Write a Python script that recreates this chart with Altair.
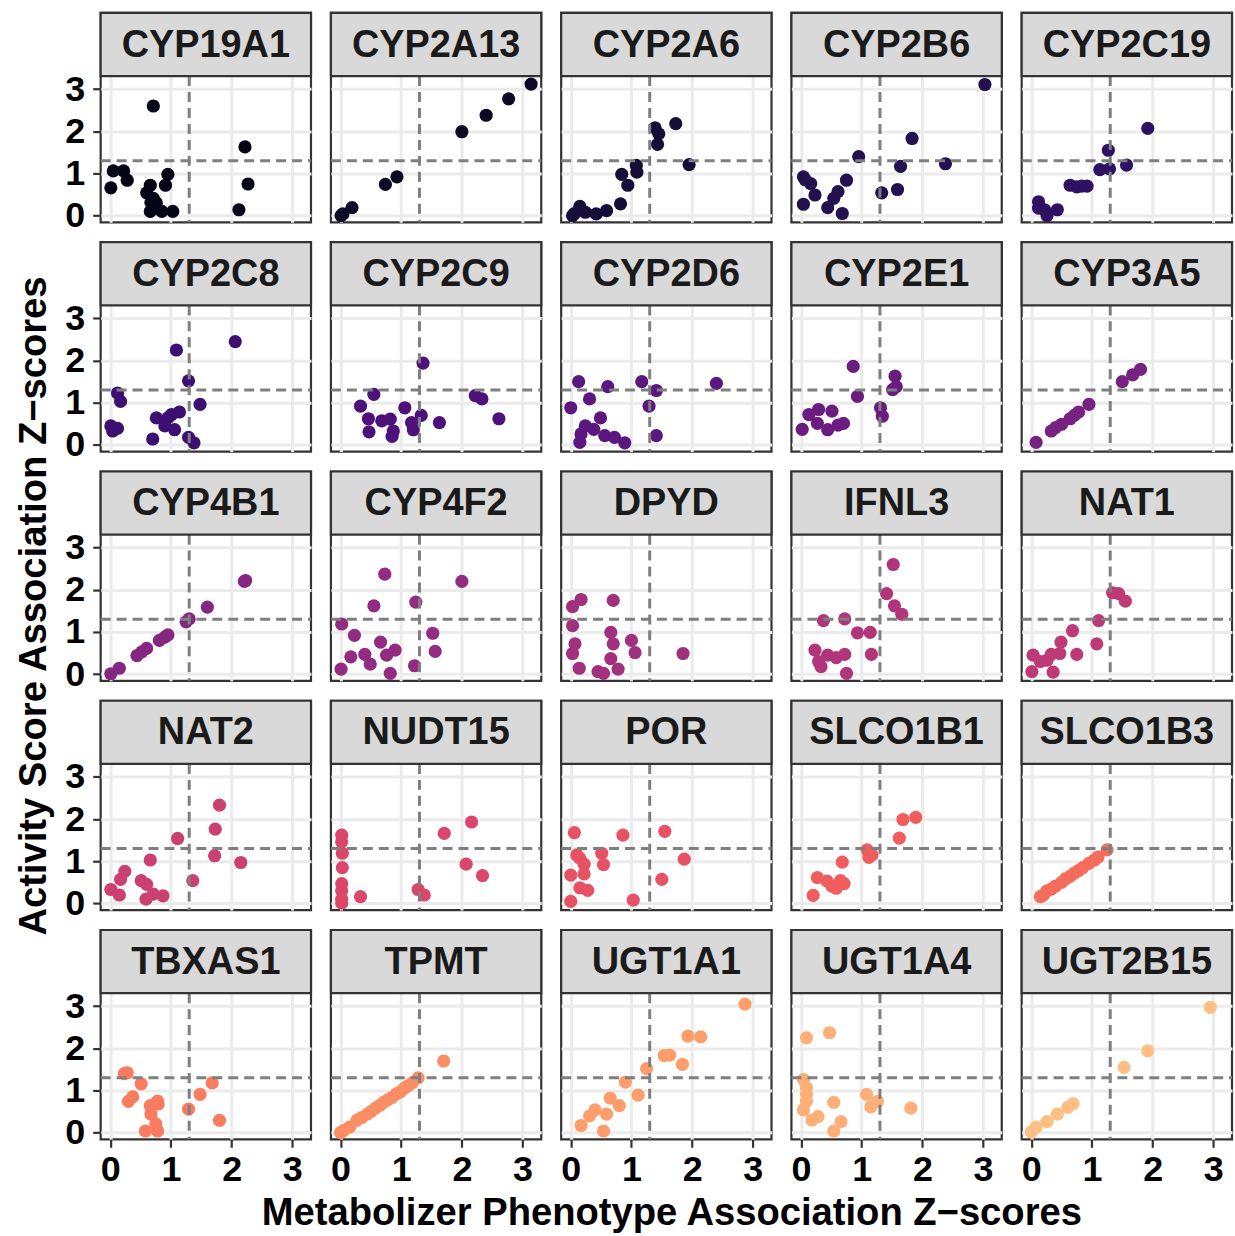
import altair as alt
import pandas as pd

# Gene panels, in display order
GENES = [
    "CYP19A1", "CYP2A13", "CYP2A6", "CYP2B6", "CYP2C19",
    "CYP2C8", "CYP2C9", "CYP2D6", "CYP2E1", "CYP3A5",
    "CYP4B1", "CYP4F2", "DPYD", "IFNL3", "NAT1",
    "NAT2", "NUDT15", "POR", "SLCO1B1", "SLCO1B3",
    "TBXAS1", "TPMT", "UGT1A1", "UGT1A4", "UGT2B15",
]

# Metabolizer phenotype (mp) and activity score (as) association z-scores per gene
cyp19a1_mp = [0.71, 2.22, 2.27, 2.12, 0.01, 0.05, 0.22, 0.28, 0.66, 0.60, 0.95, 0.91, 0.67, 0.76, 0.66, 0.85, 1.03, 0.71]
cyp19a1_as = [2.60, 1.63, 0.75, 0.14, 0.66, 1.06, 1.06, 0.84, 0.72, 0.54, 0.98, 0.72, 0.31, 0.30, 0.10, 0.10, 0.10, 0.41]

cyp2a13_mp = [0.01, 0.04, 0.19, 0.74, 0.93, 2.00, 2.40, 2.77, 3.14]
cyp2a13_as = [0.00, 0.04, 0.19, 0.74, 0.92, 1.99, 2.38, 2.77, 3.12]

cyp2a6_mp = [0.03, 0.06, 0.15, 0.24, 0.42, 0.59, 0.82, 0.84, 0.94, 1.08, 1.09, 1.39, 1.45, 1.43, 1.73, 1.95]
cyp2a6_as = [0.00, 0.05, 0.22, 0.08, 0.04, 0.12, 0.28, 0.98, 0.72, 1.19, 1.03, 2.08, 1.94, 1.69, 2.18, 1.21]

cyp2b6_mp = [3.03, 0.04, 0.16, 0.23, 0.04, 0.44, 0.68, 0.54, 0.61, 0.75, 0.95, 1.33, 1.64, 1.59, 1.83, 2.38, 0.07]
cyp2b6_as = [3.11, 0.92, 0.76, 0.49, 0.27, 0.19, 0.05, 0.41, 0.57, 0.84, 1.40, 0.54, 1.17, 0.62, 1.83, 1.23, 0.85]

cyp2c19_mp = [0.12, 0.12, 0.26, 0.43, 0.64, 0.75, 0.83, 0.92, 1.13, 1.27, 1.29, 1.57, 1.92, 0.22]
cyp2c19_as = [0.33, 0.18, 0.00, 0.14, 0.72, 0.68, 0.70, 0.70, 1.09, 1.55, 1.11, 1.20, 2.07, 0.14]

cyp2c8_mp = [0.01, 0.04, 0.12, 0.12, 0.17, 0.70, 0.76, 0.95, 0.90, 1.06, 1.14, 1.01, 1.09, 1.29, 1.29, 1.38, 1.48, 2.06]
cyp2c8_as = [0.45, 0.33, 0.39, 1.23, 1.03, 0.14, 0.64, 0.64, 0.45, 0.36, 0.78, 0.72, 2.25, 1.52, 0.18, 0.05, 0.96, 2.45]

cyp2c9_mp = [0.33, 0.46, 0.47, 0.55, 0.68, 0.82, 0.87, 0.85, 1.06, 1.17, 1.20, 1.33, 1.36, 1.63, 2.22, 2.33, 2.61]
cyp2c9_as = [0.92, 0.62, 0.31, 1.20, 0.57, 0.61, 0.33, 0.20, 0.88, 0.53, 0.36, 0.70, 1.94, 0.53, 1.17, 1.09, 0.62]

cyp2d6_mp = [0.13, 0.00, 0.31, 0.61, 1.17, 1.41, 1.29, 1.41, 2.40, 0.49, 0.24, 0.15, 0.17, 0.38, 0.56, 0.72, 0.89]
cyp2d6_as = [1.50, 0.88, 1.09, 1.38, 1.50, 1.29, 0.92, 0.22, 1.46, 0.64, 0.45, 0.06, 0.26, 0.37, 0.22, 0.18, 0.05]

cyp2e1_mp = [0.02, 0.13, 0.29, 0.27, 0.44, 0.51, 0.61, 0.70, 0.86, 0.93, 1.31, 1.34, 1.51, 1.55, 1.57]
cyp2e1_as = [0.37, 0.72, 0.84, 0.51, 0.36, 0.80, 0.47, 0.51, 1.86, 1.15, 0.88, 0.68, 1.31, 1.63, 1.38]

cyp3a5_mp = [0.08, 0.33, 0.40, 0.50, 0.64, 0.71, 0.78, 0.95, 1.50, 1.67, 1.80]
cyp3a5_as = [0.06, 0.33, 0.41, 0.49, 0.62, 0.70, 0.78, 0.96, 1.50, 1.66, 1.79]

cyp4b1_mp = [0.01, 0.15, 0.44, 0.52, 0.60, 0.81, 0.90, 0.95, 1.25, 1.30, 1.60, 2.21, 2.23]
cyp4b1_as = [0.01, 0.14, 0.44, 0.53, 0.61, 0.80, 0.88, 0.93, 1.24, 1.31, 1.59, 2.20, 2.22]

cyp4f2_mp = [0.02, 0.01, 0.17, 0.23, 0.40, 0.49, 0.55, 0.66, 0.73, 0.76, 0.90, 0.82, 1.22, 1.24, 1.52, 1.56, 2.00]
cyp4f2_as = [1.19, 0.12, 0.41, 0.92, 0.47, 0.24, 1.62, 0.76, 2.37, 0.45, 0.57, 0.02, 0.20, 1.71, 0.97, 0.54, 2.20]

dpyd_mp = [0.17, 0.03, 0.03, 0.70, 0.07, 0.03, 0.14, 0.45, 0.54, 0.66, 0.70, 0.66, 0.78, 1.00, 1.06, 1.85]
dpyd_as = [1.77, 1.60, 1.15, 1.75, 0.72, 0.49, 0.14, 0.06, 0.02, 0.99, 0.72, 0.37, 0.12, 0.80, 0.51, 0.49]

ifnl3_mp = [1.52, 1.41, 1.54, 1.66, 0.37, 0.72, 0.93, 1.14, 1.16, 0.23, 0.29, 0.33, 0.44, 0.58, 0.72, 0.75]
ifnl3_as = [2.60, 1.91, 1.62, 1.42, 1.27, 1.31, 0.98, 0.99, 0.47, 0.57, 0.30, 0.18, 0.45, 0.39, 0.47, 0.02]

nat1_mp = [1.34, 1.44, 1.55, 1.11, 1.08, 0.68, 0.75, 0.49, 0.47, 0.33, 0.03, 0.01, 0.15, 0.36, 0.26]
nat1_as = [1.93, 1.91, 1.73, 1.27, 0.72, 1.03, 0.47, 0.76, 0.49, 0.47, 0.45, 0.06, 0.30, 0.05, 0.33]

nat2_mp = [0.01, 0.15, 0.17, 0.24, 0.51, 0.60, 0.66, 0.59, 0.71, 0.87, 1.11, 1.36, 1.72, 1.73, 1.80, 2.15]
nat2_as = [0.33, 0.20, 0.57, 0.76, 0.54, 0.45, 1.03, 0.10, 0.22, 0.18, 1.54, 0.54, 1.13, 1.76, 2.33, 0.97]

nudt15_mp = [0.02, 0.02, 0.03, 0.03, 0.02, 0.02, 0.02, 0.02, 0.33, 1.28, 1.38, 1.71, 2.07, 2.16, 2.34]
nudt15_as = [1.62, 1.46, 1.19, 0.85, 0.47, 0.30, 0.10, 0.01, 0.16, 0.33, 0.20, 1.66, 0.93, 1.93, 0.66]

por_mp = [0.06, 0.00, 0.00, 0.10, 0.15, 0.22, 0.22, 0.15, 0.28, 0.51, 0.54, 0.86, 1.03, 1.55, 1.50, 1.87]
por_as = [1.68, 0.05, 0.67, 1.15, 1.07, 0.93, 0.70, 0.37, 0.31, 1.19, 0.92, 1.62, 0.08, 1.71, 0.57, 1.05]

slco1b1_mp = [0.20, 0.27, 0.43, 0.51, 0.58, 0.65, 0.68, 0.71, 1.09, 1.12, 1.17, 1.62, 1.68, 1.89]
slco1b1_as = [0.19, 0.61, 0.53, 0.41, 0.36, 0.54, 0.98, 0.47, 1.27, 1.09, 1.15, 1.55, 1.99, 2.04]

slco1b3_mp = [0.15, 0.20, 0.26, 0.33, 0.40, 0.50, 0.57, 0.64, 0.71, 0.78, 0.85, 0.95, 1.04, 1.10, 1.25]
slco1b3_as = [0.16, 0.20, 0.30, 0.34, 0.41, 0.50, 0.59, 0.64, 0.72, 0.78, 0.85, 0.95, 1.03, 1.10, 1.27]

tbxas1_mp = [0.23, 0.28, 0.30, 0.37, 0.51, 0.66, 0.67, 0.78, 0.79, 0.75, 0.58, 0.78, 1.29, 1.48, 1.68, 1.80]
tbxas1_as = [1.40, 1.42, 0.74, 0.85, 1.16, 0.64, 0.44, 0.75, 0.68, 0.21, 0.04, 0.04, 0.56, 0.91, 1.18, 0.29]

tpmt_mp = [0.00, 0.05, 0.15, 0.27, 0.35, 0.44, 0.50, 0.58, 0.65, 0.71, 0.78, 0.85, 0.92, 0.98, 1.05, 1.11, 1.18, 1.28, 1.70]
tpmt_as = [0.00, 0.05, 0.13, 0.29, 0.36, 0.44, 0.50, 0.58, 0.65, 0.72, 0.78, 0.84, 0.92, 0.96, 1.05, 1.11, 1.18, 1.30, 1.70]

ugt1a1_mp = [0.17, 0.31, 0.40, 0.54, 0.59, 0.65, 0.80, 0.90, 1.11, 1.25, 1.54, 1.63, 1.84, 1.93, 2.14, 2.87]
ugt1a1_as = [0.17, 0.40, 0.54, 0.04, 0.44, 0.82, 0.64, 1.20, 0.89, 1.52, 1.83, 1.84, 1.62, 2.29, 2.27, 3.05]

ugt1a4_mp = [0.09, 0.47, 0.04, 0.09, 0.09, 0.09, 0.04, 0.18, 0.28, 0.54, 0.54, 0.66, 1.08, 1.15, 1.26, 1.81]
ugt1a4_as = [2.25, 2.37, 1.26, 1.07, 0.92, 0.75, 0.54, 0.30, 0.38, 0.72, 0.04, 0.26, 0.91, 0.61, 0.74, 0.58]

ugt2b15_mp = [0.00, 0.08, 0.26, 0.43, 0.60, 0.69, 1.53, 1.92, 2.95]
ugt2b15_as = [0.02, 0.13, 0.26, 0.44, 0.60, 0.69, 1.55, 1.94, 2.97]

MP_SERIES = [
    cyp19a1_mp, cyp2a13_mp, cyp2a6_mp, cyp2b6_mp, cyp2c19_mp,
    cyp2c8_mp, cyp2c9_mp, cyp2d6_mp, cyp2e1_mp, cyp3a5_mp,
    cyp4b1_mp, cyp4f2_mp, dpyd_mp, ifnl3_mp, nat1_mp,
    nat2_mp, nudt15_mp, por_mp, slco1b1_mp, slco1b3_mp,
    tbxas1_mp, tpmt_mp, ugt1a1_mp, ugt1a4_mp, ugt2b15_mp,
]
AS_SERIES = [
    cyp19a1_as, cyp2a13_as, cyp2a6_as, cyp2b6_as, cyp2c19_as,
    cyp2c8_as, cyp2c9_as, cyp2d6_as, cyp2e1_as, cyp3a5_as,
    cyp4b1_as, cyp4f2_as, dpyd_as, ifnl3_as, nat1_as,
    nat2_as, nudt15_as, por_as, slco1b1_as, slco1b3_as,
    tbxas1_as, tpmt_as, ugt1a1_as, ugt1a4_as, ugt2b15_as,
]

THRESHOLD = 1.301  # -log10(0.05)
TICKS = [0, 0.5, 1, 1.5, 2, 2.5, 3]
X_TITLE = "Metabolizer Phenotype Association Z\u2212scores"
Y_TITLE = "Activity Score Association Z\u2212scores"

FONT = "Liberation Sans"
N_COLS = 5
N_ROWS = 5
PANEL_W = 211
PANEL_H = 210          # strip + plotting region
STRIP_H = 63.4
GAP = 20
LO, HI = -0.1575, 3.3075
Y_TOP = HI + STRIP_H * (HI - LO) / (PANEL_H - STRIP_H)
TITLE_SIZE = 38.3

# Axis titles are drawn as text marks of the middle panels of the
# left column / bottom row, offset from that panel's origin.
Y_TITLE_PANEL = 2 * N_COLS          # row 3, column 1
Y_TITLE_POS = (-66, 135)
X_TITLE_PANEL = (N_ROWS - 1) * N_COLS + 2   # row 5, column 3
X_TITLE_POS = (111, 285)

MAJOR = "datum.value % 1 === 0"
GRID_W = {"condition": {"test": MAJOR, "value": 3}, "value": 1.5}


def panel_axis(show, pad):
    common = dict(
        values=TICKS,
        title=None,
        domain=False,
        grid=True,
        gridColor="#EBEBEB",
        gridWidth=GRID_W,
    )
    if not show:
        return alt.Axis(labels=False, ticks=False, **common)
    return alt.Axis(
        labelExpr="datum.value % 1 === 0 ? format(datum.value, 'd') : ''",
        labelOverlap=False,
        labelFont=FONT,
        labelFontSize=36,
        labelFontWeight="bold",
        labelColor="black",
        labelPadding=pad,
        tickSize=8,
        tickWidth=2.2,
        tickColor="#333333",
        tickOpacity={"condition": {"test": MAJOR, "value": 1}, "value": 0},
        **common,
    )


color_scale = alt.Scale(domain=GENES, scheme={"name": "magma", "extent": [0, 0.9]})


def axis_title(text, pos, angle):
    return alt.Chart(pd.DataFrame({"label": [text]})).mark_text(
        font=FONT, fontSize=TITLE_SIZE, fontWeight="bold", color="black",
        align="center", baseline="middle", angle=angle,
    ).encode(
        text="label:N",
        x=alt.value(pos[0]),
        y=alt.value(pos[1]),
    )


def make_panel(idx, gene, mp, act):
    row, col = divmod(idx, N_COLS)
    pts_df = pd.DataFrame({"gene": gene, "mp_z": mp, "as_z": act})
    label_df = pd.DataFrame({"gene": [gene]})

    points = alt.Chart(pts_df).mark_circle(size=175, opacity=1).encode(
        x=alt.X("mp_z:Q", scale=alt.Scale(domain=[LO, HI], nice=False, zero=False),
                axis=panel_axis(row == N_ROWS - 1, 5)),
        y=alt.Y("as_z:Q", scale=alt.Scale(domain=[LO, Y_TOP], nice=False, zero=False),
                axis=panel_axis(col == 0, 8)),
        color=alt.Color("gene:N", scale=color_scale, legend=None),
    )

    label = alt.Chart(label_df)
    vline = label.mark_rule(color="#7F7F7F", strokeWidth=3, strokeDash=[10, 6]).encode(
        x=alt.datum(THRESHOLD),
        y=alt.value(STRIP_H),
        y2=alt.value(PANEL_H),
    )
    hline = label.mark_rule(color="#7F7F7F", strokeWidth=3, strokeDash=[10, 6]).encode(
        y=alt.datum(THRESHOLD),
        x=alt.value(0),
        x2=alt.value(PANEL_W),
    )
    strip_box = label.mark_rect(fill="#D9D9D9", stroke="#333333", strokeWidth=2.2).encode(
        x=alt.value(0),
        x2=alt.value(PANEL_W),
        y=alt.value(0),
        y2=alt.value(STRIP_H),
    )
    strip_text = label.mark_text(
        font=FONT, fontSize=38, fontWeight="bold", color="#1A1A1A",
        baseline="middle", align="center",
    ).encode(
        text="gene:N",
        x=alt.value(PANEL_W / 2),
        y=alt.value(STRIP_H / 2 + 1),
    )
    layers = [points, vline, hline, strip_box, strip_text]
    if idx == Y_TITLE_PANEL:
        layers.append(axis_title(Y_TITLE, Y_TITLE_POS, 270))
    if idx == X_TITLE_PANEL:
        layers.append(axis_title(X_TITLE, X_TITLE_POS, 0))
    return alt.layer(*layers).properties(width=PANEL_W, height=PANEL_H)


panels = [make_panel(i, g, mp, a) for i, (g, mp, a) in enumerate(zip(GENES, MP_SERIES, AS_SERIES))]

chart = alt.concat(*panels, columns=N_COLS, spacing=GAP, bounds="flush").properties(
    padding={"left": 13, "top": 8, "right": 0, "bottom": 0},
    background="white",
).configure_view(stroke="#333333", strokeWidth=2.2)

chart.save("out.html", embed_options={"renderer": "svg", "actions": False})
